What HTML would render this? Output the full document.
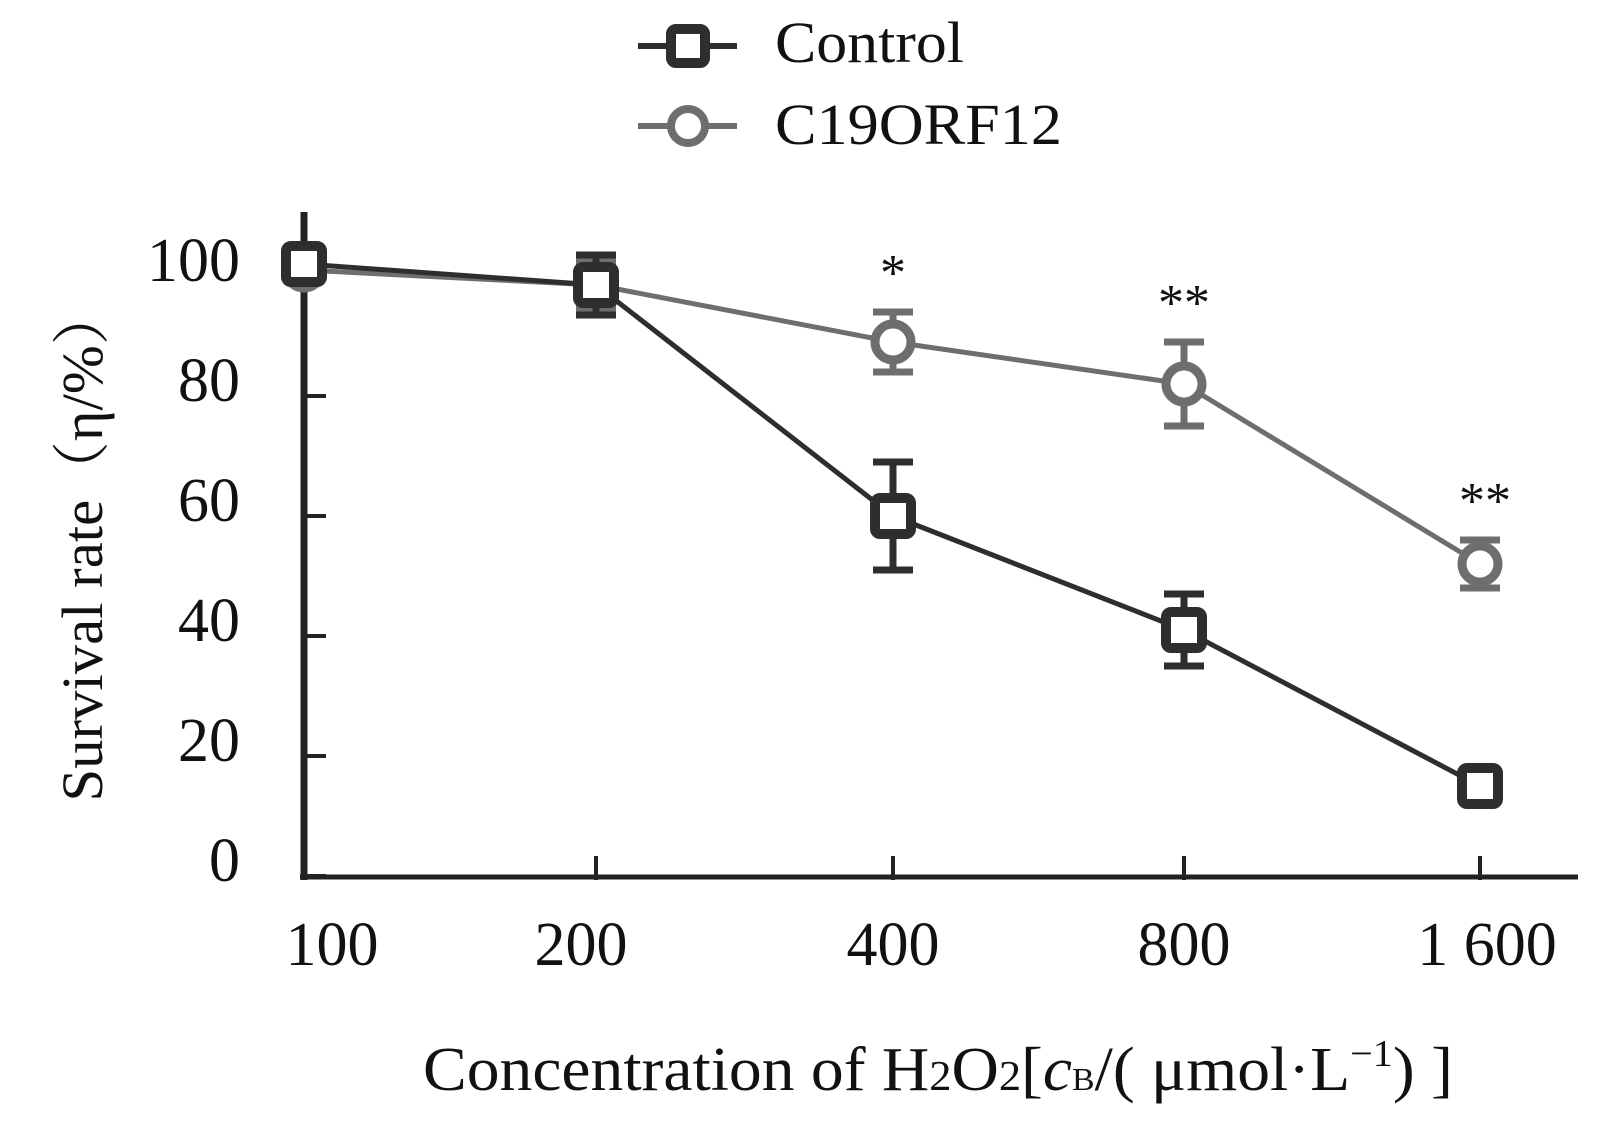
<!DOCTYPE html>
<html><head><meta charset="utf-8"><style>
html,body{margin:0;padding:0;background:#fff;}
svg{display:block;}
text{font-family:"Liberation Serif","Noto Serif CJK SC",serif;fill:#111;}
</style></head><body>
<svg id="chart" width="1619" height="1130" viewBox="0 0 1619 1130" xmlns="http://www.w3.org/2000/svg"></svg>
<script>
const categories=["100","200","400","800","1  600"];
const controlValues=[102,98.5,60,41,15];
const controlErrors=[1,5,9,6,2];
const c19Values=[101,98.5,89,82,52];
const c19Errors=[1,4,5,7,4];
const yTicks=[0,20,40,60,80,100];
const sigLabels=["","","*","**","**"];

const svg=document.getElementById('chart');
const NS='http://www.w3.org/2000/svg';
const xPos=[304,596,893,1184,1480];
const X=i=>xPos[i];
const Y=v=>876-v*6.0;
function mk(tag,attrs,parent){const e=document.createElementNS(NS,tag);for(const k in attrs)e.setAttribute(k,attrs[k]);(parent||svg).appendChild(e);return e;}

const ya=mk('line',{x1:304,y1:212,x2:304,y2:880,stroke:'#222','stroke-width':7});


const xa=mk('line',{x1:300,y1:877,x2:1578,y2:877,stroke:'#222','stroke-width':5});



yTicks.forEach(v=>{
  const t=mk('line',{x1:304,y1:Y(v),x2:326,y2:Y(v),stroke:'#222','stroke-width':4});
  
  
  const l=mk('text',{x:240,y:Y(v)+5,'text-anchor':'end','font-size':62});
  l.textContent=v;
  
  
});
categories.forEach((c,i)=>{
  if(i>0){const t=mk('line',{x1:X(i),y1:856,x2:X(i),y2:880,stroke:'#222','stroke-width':4});
  
  }
  const l=mk('text',{y:965,'text-anchor':'middle','font-size':62});
  l.setAttribute('x',i==0?332:(i==4?1487:X(i)-(i==1?15:0)));
  l.setAttribute('xml:space','preserve');
  l.textContent=c;
  
  
});

function series(vals,errs,color,shape,name){
  const g=mk('g',{});
  
  
  const pts=vals.map((v,i)=>X(i)+','+Y(v)).join(' ');
  const pl=mk('polyline',{points:pts,fill:'none',stroke:color,'stroke-width':5},g);
  
  
  vals.forEach((v,i)=>{
    const x=X(i),y=Y(v),e=errs[i]*6.0;
    const eb=mk('path',{d:`M${x} ${y-e}V${y+e}M${x-20} ${y-e}H${x+20}M${x-20} ${y+e}H${x+20}`,stroke:color,'stroke-width':7,fill:'none'},g);
    
    
    let m;
    if(shape==='sq') m=mk('rect',{x:x-18,y:y-18,width:36,height:36,rx:5,fill:'#fff',stroke:color,'stroke-width':10},g);
    else m=mk('circle',{cx:x,cy:y,r:18,fill:'#fff',stroke:color,'stroke-width':9},g);
    
    
  });
}
series(c19Values,c19Errors,'#6e6e6e','ci','c19orf12');
series(controlValues,controlErrors,'#2e2e2e','sq','control');

sigLabels.forEach((s,i)=>{
  if(!s)return;
  const top=Y(c19Values[i]+c19Errors[i]);
  const t=mk('text',{x:X(i)+(i==4?5:0),y:top-22,'text-anchor':'middle','font-size':52});
  t.textContent=s;
  
  
});

const lg=mk('g',{});


mk('line',{x1:638,y1:46,x2:737,y2:46,stroke:'#2e2e2e','stroke-width':6},lg);
mk('rect',{x:671,y:29,width:34,height:34,rx:5,fill:'#fff',stroke:'#2e2e2e','stroke-width':10},lg);
const lt1=mk('text',{x:775,y:62,'font-size':58,textLength:189,lengthAdjust:'spacingAndGlyphs'},lg);lt1.textContent='Control';


mk('line',{x1:638,y1:126,x2:737,y2:126,stroke:'#6e6e6e','stroke-width':6},lg);
mk('circle',{cx:688,cy:126,r:17,fill:'#fff',stroke:'#6e6e6e','stroke-width':8},lg);
const lt2=mk('text',{x:775,y:144,'font-size':58,textLength:287,lengthAdjust:'spacingAndGlyphs'},lg);lt2.textContent='C19ORF12';



const yt=mk('text',{x:0,y:0,'font-size':58,'text-anchor':'middle',textLength:515,lengthAdjust:'spacingAndGlyphs',transform:'translate(102,544) rotate(-90)'});
yt.textContent='Survival rate（η/%）';


const xt=mk('text',{x:938,y:1090,'font-size':62,'text-anchor':'middle',textLength:1030,lengthAdjust:'spacingAndGlyphs'});
xt.innerHTML='Concentration of H<tspan font-size="42">2</tspan>O<tspan font-size="42">2</tspan>[<tspan font-style="italic">c</tspan><tspan font-size="32">B</tspan>/( μmol·L<tspan font-size="38" dy="-24">−1</tspan><tspan dy="24">) ]</tspan>';


</script>
</body></html>
